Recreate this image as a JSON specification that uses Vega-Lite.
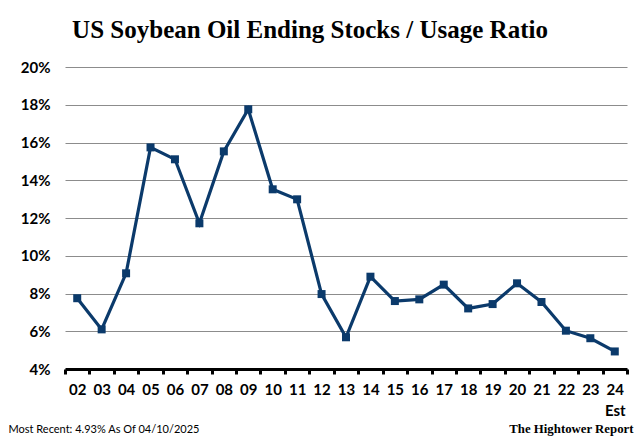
{
  "$schema": "https://vega.github.io/schema/vega-lite/v6.json",
  "width": 562,
  "height": 302,
  "autosize": {"type": "none"},
  "padding": {"left": 65, "top": 67, "right": 13, "bottom": 77},
  "background": "white",
  "title": {
    "text": "US Soybean Oil Ending Stocks / Usage Ratio",
    "font": "Liberation Serif",
    "fontSize": 25,
    "fontWeight": "bold",
    "color": "black",
    "anchor": "middle",
    "frame": "group",
    "dx": -36,
    "baseline": "alphabetic",
    "offset": -3
  },
  "data": {
    "values": [
      {"year": 2, "ratio": 7.75},
      {"year": 3, "ratio": 6.1},
      {"year": 4, "ratio": 9.07},
      {"year": 5, "ratio": 15.74},
      {"year": 6, "ratio": 15.11},
      {"year": 7, "ratio": 11.72},
      {"year": 8, "ratio": 15.53},
      {"year": 9, "ratio": 17.76},
      {"year": 10, "ratio": 13.52},
      {"year": 11, "ratio": 12.99},
      {"year": 12, "ratio": 7.97},
      {"year": 13, "ratio": 5.68},
      {"year": 14, "ratio": 8.89},
      {"year": 15, "ratio": 7.6},
      {"year": 16, "ratio": 7.69},
      {"year": 17, "ratio": 8.47},
      {"year": 18, "ratio": 7.21},
      {"year": 19, "ratio": 7.44},
      {"year": 20, "ratio": 8.54},
      {"year": 21, "ratio": 7.55},
      {"year": 22, "ratio": 6.03},
      {"year": 23, "ratio": 5.63},
      {"year": 24, "ratio": 4.93}
    ]
  },
  "encoding": {
    "x": {
      "field": "year",
      "type": "quantitative",
      "scale": {"domain": [1.5, 24.5], "nice": false, "zero": false},
      "axis": {
        "values": [1.5, 2.5, 3.5, 4.5, 5.5, 6.5, 7.5, 8.5, 9.5, 10.5, 11.5, 12.5, 13.5, 14.5, 15.5, 16.5, 17.5, 18.5, 19.5, 20.5, 21.5, 22.5, 23.5, 24.5],
        "labelExpr": "datum.value > 24 ? '' : (datum.value > 23 ? ['24', 'Est'] : format(datum.value + 0.5, '02d'))",
        "labelOffset": 12.22,
        "labelOverlap": false,
        "labelFlush": false,
        "labelFont": "Lato",
        "labelFontSize": 15,
        "labelFontWeight": "bold",
        "labelColor": "black",
        "labelPadding": 8,
        "labelLineHeight": 21,
        "labelBaseline": "top",
        "grid": false,
        "domain": true,
        "domainColor": "black",
        "domainWidth": 3,
        "ticks": true,
        "tickColor": "black",
        "tickWidth": 3,
        "tickSize": 5,
        "title": "The Hightower Report",
        "titleFont": "Liberation Serif",
        "titleFontSize": 12.8,
        "titleFontWeight": "bold",
        "titleColor": "black",
        "titleAnchor": "end",
        "titleAlign": "right",
        "titleBaseline": "alphabetic",
        "titleX": 568,
        "titleY": 63
      }
    },
    "y": {
      "field": "ratio",
      "type": "quantitative",
      "scale": {"domain": [4, 20], "nice": false, "zero": false},
      "axis": {
        "values": [4, 6, 8, 10, 12, 14, 16, 18, 20],
        "labelExpr": "datum.value + '%'",
        "labelFont": "Lato",
        "labelFontSize": 15,
        "labelFontWeight": "bold",
        "labelColor": "black",
        "labelPadding": 15,
        "ticks": false,
        "domain": false,
        "grid": true,
        "gridColor": "#8c8c8c",
        "gridWidth": 1,
        "title": "Most Recent: 4.93% As Of 04/10/2025",
        "titleFont": "Lato",
        "titleFontSize": 11,
        "titleFontWeight": "normal",
        "titleColor": "black",
        "titleAngle": 0,
        "titleAlign": "left",
        "titleBaseline": "alphabetic",
        "titleX": -57,
        "titleY": 365
      }
    }
  },
  "layer": [
    {"mark": {"type": "line", "color": "#0b3a6b", "strokeWidth": 3.2}},
    {"mark": {"type": "point", "shape": "square", "filled": true, "size": 64, "color": "#0b3a6b", "opacity": 1}}
  ],
  "config": {
    "view": {"stroke": null}
  }
}
